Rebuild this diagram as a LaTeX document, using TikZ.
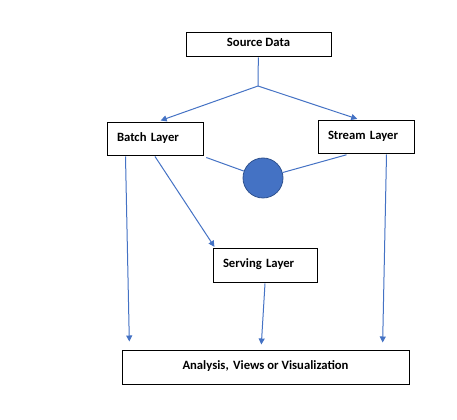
\documentclass[tikz,border=0pt]{standalone}
\usepackage{fontspec}
\setmainfont{Carlito}
\usetikzlibrary{arrows.meta}
\definecolor{officeblue}{HTML}{4472C4}
\definecolor{officedark}{HTML}{2F528F}

\begin{document}
\begin{tikzpicture}[x=0.75pt, y=-0.75pt, font=\fontsize{9.5}{11}\selectfont\bfseries,
  box/.style={draw=black, line width=0.75pt, inner sep=0pt, minimum height=24.75pt, text height=7pt, text depth=4.5pt},
  layerbox/.style={box, align=left, inner xsep=7.5pt},
  flow/.style={draw=officeblue, line width=0.75pt},
  arrowflow/.style={flow, -{Triangle[length=4.5pt, width=4.5pt]}}]

\useasboundingbox (0,0) rectangle (457,420);

\node[box, minimum width=108.75pt, minimum height=18pt] (source) at (258.5, 45) {Source Data};
\node[layerbox, text width=57pt] (batch) at (155, 139.5) {Batch Layer};
\node[layerbox, text width=57pt] (stream) at (366, 137.5) {Stream Layer};
\node[layerbox, text width=63pt, minimum height=25.5pt] (serving) at (265, 266) {Serving Layer};
\node[box, minimum width=215.25pt] (analysis) at (265.5, 367.5) {Analysis,\hspace{0.35em}Views or Visualization};
\node[circle, draw=officedark, fill=officeblue, line width=0.6pt, minimum size=30pt, inner sep=0pt] (hub) at (263, 178) {};
\coordinate (split) at (258, 86);

\draw [flow] (source) -- (split);
\draw [arrowflow, shorten >=4.5pt] (split) -- (batch.north);
\draw [arrowflow, shorten >=3.75pt] (split) -- ([xshift=-3pt]stream.north);
\draw [arrowflow, shorten >=6.75pt] ([xshift=14.25pt]batch.south west) -- ([xshift=6pt]analysis.north west);
\draw [arrowflow, shorten >=1.5pt] (batch.south) -- ([xshift=2.25pt]serving.north west);
\draw [arrowflow, shorten >=4.5pt] (serving.south) -- ([xshift=-3.4pt]analysis.north);
\draw [arrowflow, shorten >=6pt] ([xshift=-21pt]stream.south east) -- ([xshift=-20.25pt]analysis.north east);
\draw [flow, shorten <=2.25pt] (batch.south east) -- (hub);
\draw [flow, shorten >=0.75pt] (hub) -- ([xshift=22.5pt]stream.south west);

\end{tikzpicture}
\end{document}
